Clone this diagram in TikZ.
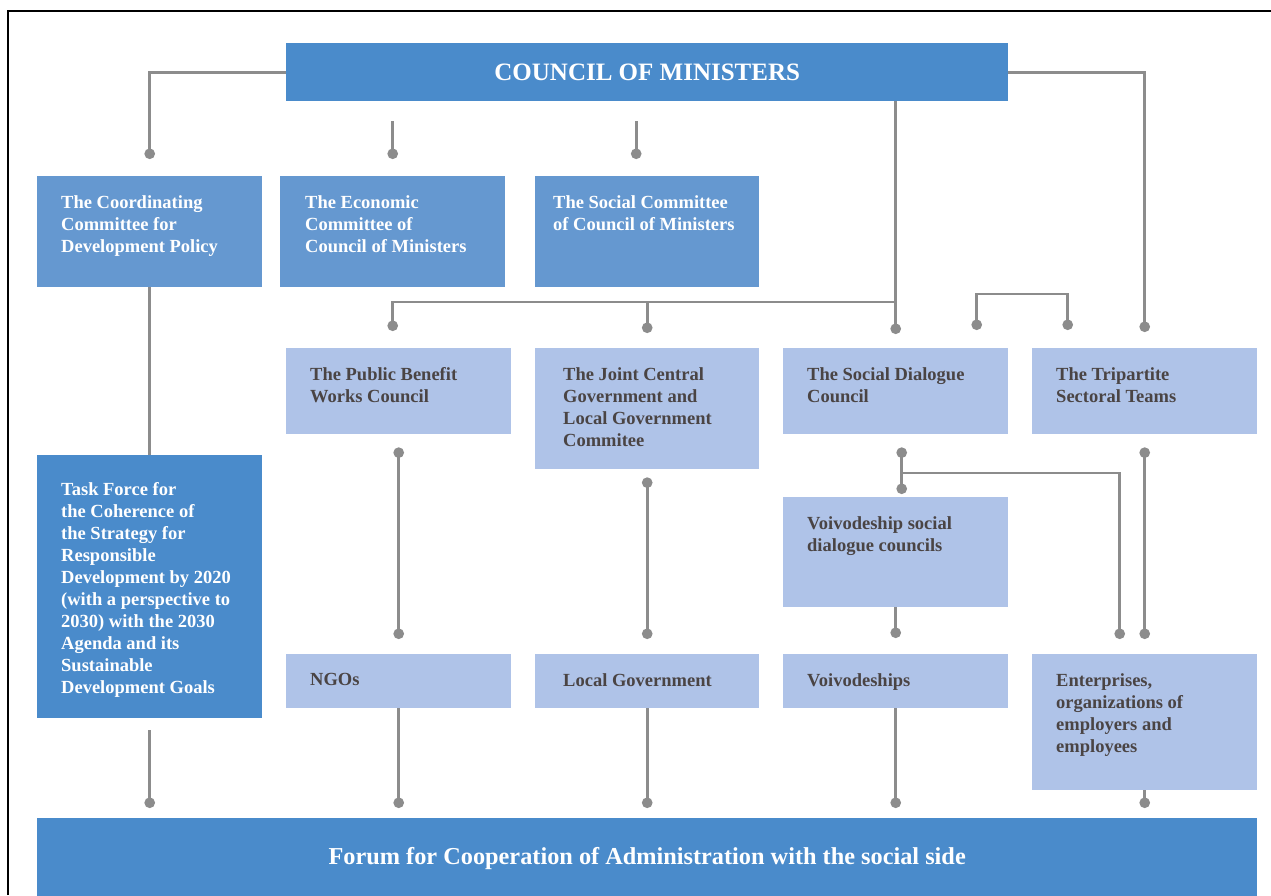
\documentclass[tikz,border=0pt]{standalone}
\usepackage{fontspec}
\setmainfont{Liberation Serif}
\usetikzlibrary{arrows.meta}
\definecolor{darkblue}{HTML}{4A8BCB}
\definecolor{midblue}{HTML}{6598D0}
\definecolor{lightblue}{HTML}{AFC3E8}
\definecolor{linegray}{HTML}{8C8C8C}
\definecolor{textgray}{HTML}{4A4444}
\begin{document}
\begin{tikzpicture}[x=1pt,y=-1pt,
    orgbox/.style={anchor=north west,inner sep=0pt,minimum width=225pt},
    darkbox/.style={orgbox,fill=darkblue},
    midbox/.style={orgbox,fill=midblue},
    lightbox/.style={orgbox,fill=lightblue},
    intext/.style={anchor=north west,inner sep=0pt,xshift=24pt,yshift=-19pt,align=left,font=\bfseries\fontsize{18.5}{22}\selectfont},
    whitetext/.style={intext,text=white},
    greytext/.style={intext,text=textgray},
    link/.style={draw=linegray,line width=2.8pt},
    dotend/.style={link,-{Circle[length=10.5pt,width=10.5pt]}},
    dotboth/.style={link,{Circle[length=10.5pt,width=10.5pt]}-{Circle[length=10.5pt,width=10.5pt]}}]
    \useasboundingbox (0,0) rectangle (1271,895);
    % frame
    \draw[line width=2pt] (8,895) -- (8,10.5) -- (1271,10.5);
    % top
    \node[darkbox,minimum width=722pt,minimum height=58pt,text=white,font=\bfseries\fontsize{25}{30}\selectfont] (council) at (286,43) {COUNCIL OF MINISTERS};
    \node[midbox,minimum height=111pt,label={[whitetext]north west:The Coordinating\\Committee for\\Development Policy}] (cdp) at (37,176) {};
    \node[midbox,minimum height=111pt,label={[whitetext,xshift=1pt]north west:The Economic\\Committee of\\Council of Ministers}] (ecc) at (280,176) {};
    \node[midbox,minimum width=224pt,minimum height=111pt,label={[whitetext,xshift=-6pt]north west:The Social Committee\\of Council of Ministers}] (scc) at (535,176) {};
    % councils
    \node[lightbox,minimum height=86pt,label={[greytext]north west:The Public Benefit\\Works Council}] (pbw) at (286,348) {};
    \node[lightbox,minimum width=224pt,minimum height=121pt,label={[greytext,xshift=4pt]north west:The Joint Central\\Government and\\Local Government\\Commitee}] (jcl) at (535,348) {};
    \node[lightbox,minimum height=86pt,label={[greytext]north west:The Social Dialogue\\Council}] (sdc) at (783,348) {};
    \node[lightbox,minimum height=86pt,label={[greytext]north west:The Tripartite\\Sectoral Teams}] (tst) at (1032,348) {};
    \node[darkbox,minimum height=263pt,label={[whitetext,yshift=-8pt]north west:Task Force for\\the Coherence of\\the Strategy for\\Responsible\\Development by 2020\\(with a perspective to\\2030) with the 2030\\Agenda and its\\Sustainable\\Development Goals}] (task) at (37,455) {};
    \node[lightbox,minimum height=110pt,label={[greytext]north west:Voivodeship social\\dialogue councils}] (vsd) at (783,497) {};
    % lower row
    \node[lightbox,minimum height=54pt,label={[greytext]north west:NGOs}] (ngo) at (286,654) {};
    \node[lightbox,minimum width=224pt,minimum height=54pt,label={[greytext,xshift=4pt]north west:Local Government}] (lgov) at (535,654) {};
    \node[lightbox,minimum height=54pt,label={[greytext]north west:Voivodeships}] (voi) at (783,654) {};
    \node[lightbox,minimum height=136pt,label={[greytext]north west:Enterprises,\\organizations of\\employers and\\employees}] (ent) at (1032,654) {};
    \node[darkbox,minimum width=1220pt,minimum height=80pt,text=white,font=\bfseries\fontsize{24.3}{28}\selectfont] (forum) at (37,818) {Forum for Cooperation of Administration with the social side};
    % links from the council
    \draw[dotend] (council.west) -| ([yshift=17pt]cdp.north);
    \draw[dotend] ([yshift=55pt]ecc.north) -- ([yshift=17pt]ecc.north);
    \draw[dotend] ([xshift=-11pt,yshift=55pt]scc.north) -- ([xshift=-11pt,yshift=17pt]scc.north);
    \draw[dotend] (council.east) -| ([yshift=16pt]tst.north);
    \draw[dotend] (council.south -| sdc.north) -- ([yshift=14pt]sdc.north);
    \draw[dotend] (sdc.north |- 0,302) -| ([xshift=-6pt,yshift=17pt]pbw.north);
    \draw[dotend] (jcl.north |- 0,302) -- ([yshift=15pt]jcl.north);
    \draw[dotboth] ([xshift=81pt,yshift=18pt]sdc.north) -- ++(0,-36) -| ([xshift=-77pt,yshift=18pt]tst.north);
    % middle
    \draw[link] (cdp.south) -- (task.north);
    \draw[dotboth] ([yshift=-13pt]pbw.south) -- ([yshift=15pt]ngo.north);
    \draw[dotboth] ([yshift=-8pt]jcl.south) -- ([yshift=15pt]lgov.north);
    \coordinate (sdcdot) at ([xshift=6pt,yshift=-13pt]sdc.south);
    \draw[dotboth] (sdcdot) -- ([xshift=6pt,yshift=3pt]vsd.north);
    \draw[dotend] (sdcdot |- 0,473) -| ([xshift=-25pt,yshift=15pt]ent.north);
    \draw[dotboth] ([yshift=-13pt]tst.south) -- ([yshift=15pt]ent.north);
    \draw[dotend] (vsd.south) -- ([yshift=16pt]voi.north);
    % down to the forum
    \draw[dotend] ([yshift=-12pt]task.south) -- ([yshift=10pt]task.south |- forum.north);
    \foreach \n in {ngo,lgov,voi,ent}
        \draw[dotend] (\n.south) -- ([yshift=10pt]\n.south |- forum.north);
\end{tikzpicture}
\end{document}
